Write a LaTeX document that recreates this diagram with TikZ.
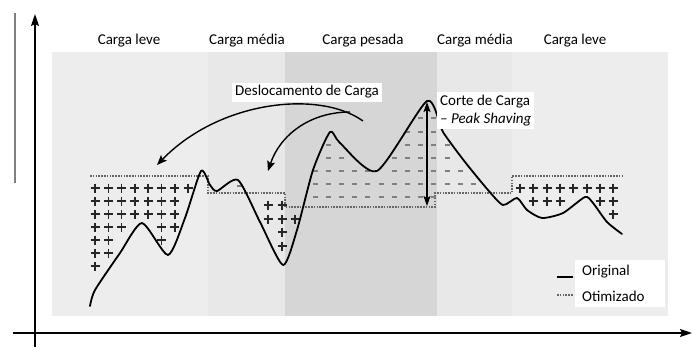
\documentclass[tikz,border=0pt]{standalone}
\usepackage{fontspec}
\setmainfont{Carlito}
\usetikzlibrary{arrows.meta}

\tikzset{
  curvaorig/.style={line width=1.8pt, line join=round, line cap=round},
  curvaotim/.style={line width=1.6pt, black!60, dash pattern=on 1.5pt off 1.3pt},
  plusmark/.style={line width=1.5pt, black!85},
  minusmark/.style={line width=2pt, black!50},
  rotulo/.style={font=\fontsize{15}{18}\selectfont, fill=white, inner sep=3pt},
  eixo/.style={line width=1.6pt, -{Stealth[length=12pt, width=8pt, inset=2pt]}},
  deslocamento/.style={line width=1.4pt, -{Stealth[length=10pt, width=8pt, inset=2pt]}},
  corteseta/.style={line width=1.4pt, {Stealth[length=10pt, width=7pt, inset=2pt]}-{Stealth[length=10pt, width=7pt, inset=2pt]}},
}

\begin{document}
\begin{tikzpicture}[x=1pt, y=-1pt]
\useasboundingbox (0,0) rectangle (693,349);

% Faixas de carga
\fill[black!7]  (52,52)  rectangle (208,316);
\fill[black!9]  (208,52) rectangle (285,316);
\fill[black!16] (285,52) rectangle (437,316);
\fill[black!9]  (437,52) rectangle (512,316);
\fill[black!7]  (512,52) rectangle (668,316);

% Eixos
\draw[gray, line width=1.2pt] (15,13) -- (15,183);
\coordinate (ybase) at (35,347);
\coordinate (yend) at (35,14);
\coordinate (xbase) at (13,333);
\coordinate (xend) at (692,333);
\draw[eixo] (ybase) -- (yend);
\draw[eixo] (xbase) -- (xend);

% Curva otimizada
\draw[curvaotim] (90,176) -- (208,176) -- (208,193) -- (285,193) -- (285,207)
      -- (435,207) -- (435,193) -- (512,193) -- (512,176) -- (623,176);

% Carga deslocada (+)
\foreach \r/\cols in {1/{1,...,8}, 2/{1,...,7}, 3/{1,...,7}, 4/{1,2,3,6,7},
                      5/{1,2,6}, 6/{1,2}, 7/{1}}
  \foreach \c in \cols
    \draw[plusmark] ({95+13.3*(\c-1)-4.5},{188+13*(\r-1)}) -- +(9,0)
                    ({95+13.3*(\c-1)},{188+13*(\r-1)-4.5}) -- +(0,9);
\foreach \x/\y in {268/205, 282/205, 268/219, 282/219, 295/219, 282/232, 282/246,
                   520/188, 533/188, 547/188, 560/188, 573/188, 587/188, 600/188, 613/188,
                   533/201, 547/201, 560/201, 600/201, 613/201, 613/214}
  \draw[plusmark] (\x-4.5,\y) -- +(9,0) (\x,\y-4.5) -- +(0,9);

% Carga cortada (-)
\foreach \y/\cols in {197/{1,...,10}, 184/{1,...,10}, 171/{1,2,3,4,5,7,8,9,10},
                      158/{2,3,7,8,9,10}, 145/{2,8,9,10}, 132/{8,9,10}, 118/{9,10}}
  \foreach \c in \cols
    \draw[minusmark] ({315+13.2*(\c-1)-2.5},\y) -- +(5,0);
\foreach \x/\y in {239/186, 447/145, 447/158, 447/171, 460/171, 447/184, 460/184, 473/184}
  \draw[minusmark] (\x-2.5,\y) -- +(5,0);

% Curva original
\draw[curvaorig] plot[smooth, tension=0.4] coordinates {
  (90,306) (95,290) (120,253) (142,223) (168,255) (185,218) (201,171) (210,185)
  (217,191) (238,180) (260,222) (283,265) (297,230) (313,170) (330,132) (340,143)
  (377,171) (427,101) (443,132) (465,162) (488,190) (503,205) (517,198) (527,210)
  (542,218) (563,213) (585,197) (593,203) (607,222) (622,234)};

% Setas
\coordinate (origemA) at (363,121);
\coordinate (origemB) at (350,112);
\coordinate (destleve) at (157,165);
\coordinate (destmedia) at (268,171);
\draw[deslocamento] (origemA) .. controls (320,90) and (220,100) .. (destleve);
\draw[deslocamento] (origemB) .. controls (310,112) and (280,135) .. (destmedia);
\coordinate (pico) at (427,102);
\coordinate (base) at (427,206);
\draw[corteseta] (pico) -- (base);

% Rotulos
\node[rotulo] (leve1) at (129,41) {Carga leve};
\node[rotulo] (media1) at (247,41) {Carga média};
\node[rotulo] (pesada) at (363,41) {Carga pesada};
\node[rotulo] (media2) at (475,41) {Carga média};
\node[rotulo] (leve2) at (575,41) {Carga leve};
\node[rotulo] (desloc) at (307,92) {Deslocamento de Carga};
\node[rotulo, align=left, anchor=north west] (cortetxt) at (437,92)
     {Corte de Carga\\{\itshape – Peak Shaving}};

% Legenda
\node[fill=white, minimum width=90pt, minimum height=47pt, anchor=north west,
      inner sep=0pt] (legenda) at (575,260) {};
\node[rotulo, anchor=west, inner sep=0pt] (legorig) at (582,272) {Original};
\node[rotulo, anchor=west, inner sep=0pt] (legotim) at (582,296) {Otimizado};
\draw[curvaorig, line cap=butt] (557,277) -- (573,277);
\draw[curvaotim] (557,295) -- (573,295);
\end{tikzpicture}
\end{document}
